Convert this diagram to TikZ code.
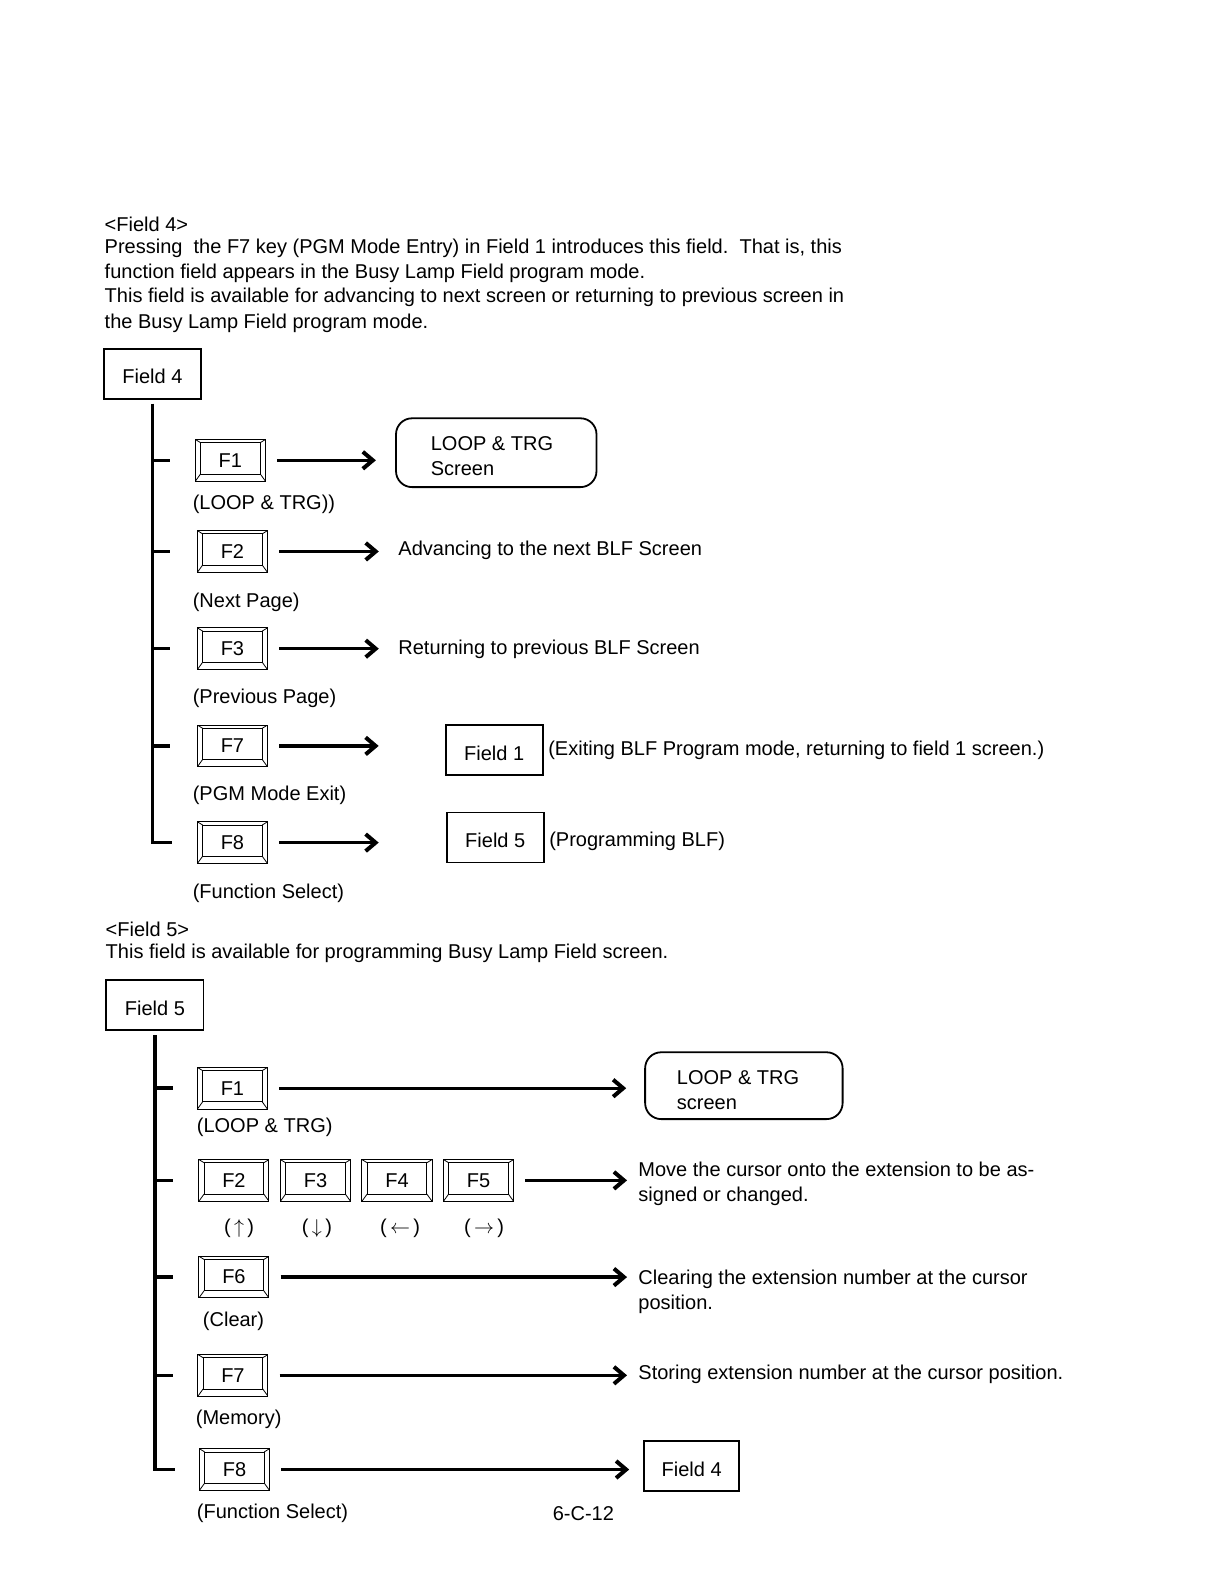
\documentclass[tikz,border=0pt]{standalone}
\usepackage{fontspec}
\setmainfont{Liberation Sans}
\usetikzlibrary{arrows.meta}

\tikzset{
  fkey/.style={draw, line width=0.5pt, minimum width=35pt, minimum height=20.8pt, inner sep=0pt,
    path picture={
      \draw[line width=0.4pt] ([shift={(2.6pt,-1.6pt)}]path picture bounding box.north west)
        rectangle ([shift={(-2.6pt,3.6pt)}]path picture bounding box.south east);
      \foreach \cn/\dx/\dy in {north west/2.6/-1.6, north east/-2.6/-1.6, south west/2.6/3.6, south east/-2.6/3.6}
        \draw[line width=0.4pt] (path picture bounding box.\cn) -- ++(\dx pt,\dy pt);
    }},
  fieldbox/.style={draw, line width=0.9pt, minimum width=48.6pt, minimum height=25pt, inner sep=0pt,
    text height=10.3pt},
  screenbox/.style={draw, line width=0.9pt, rounded corners=8pt, inner sep=0pt},
  txt/.style={anchor=base west, inner sep=0pt, yshift=-1pt},
  ctxt/.style={anchor=base, inner sep=0pt, yshift=-1pt},
  tree/.style={line width=1.8pt},
  arr/.style={line width=1.6pt, -{Straight Barb[length=5pt,width=8.5pt,line width=2pt]}, shorten <=5.6pt},
}

\begin{document}
\begin{tikzpicture}[x=0.5062pt, y=-0.5062pt]

  \useasboundingbox (0,0) rectangle (1205,1568);

  % 说明文字 Field 4
  \node[txt] (head4) at (103,227) {<Field 4>};
  \node[txt] (line41) at (103,248) {Pressing \ the F7 key (PGM Mode Entry) in Field 1 introduces this field.\ \ That is, this};
  \node[txt] (line42) at (103,273) {function field appears in the Busy Lamp Field program mode.};
  \node[txt] (line43) at (103,297) {This field is available for advancing to next screen or returning to previous screen in};
  \node[txt] (line44) at (103,322) {the Busy Lamp Field program mode.};

  % Field 4 框和按键
  \node[fieldbox] (field4) at (150.5,369) {Field 4};

  \node[fkey] (k1) at (227.5,454.5) {F1};
  \node[fkey] (k2) at (229.5,544.5) {F2};
  \node[fkey] (k3) at (229.5,640.5) {F3};
  \node[fkey] (k7) at (229.5,736.5) {F7};
  \node[fkey] (k8) at (229.5,832) {F8};

  \node[txt] (k1lab) at (190,501) {(LOOP \& TRG))};
  \node[txt] (k2lab) at (190,598) {(Next Page)};
  \node[txt] (k3lab) at (190,693) {(Previous Page)};
  \node[txt] (k7lab) at (190,788) {(PGM Mode Exit)};
  \node[txt] (k8lab) at (190,885) {(Function Select)};

  % 目标
  \node[screenbox, minimum width=100.2pt, minimum height=34.4pt] (lt1) at (490,447) {};
  \node[txt] (lt1a) at (425,443) {LOOP \& TRG};
  \node[txt] (lt1b) at (425,468) {Screen};
  \node[txt] (t2) at (393,547) {Advancing to the next BLF Screen};
  \node[txt] (t3) at (393,644) {Returning to previous BLF Screen};
  \node[fieldbox] (f1) at (488,740.5) {Field 1};
  \node[txt] (f1note) at (541,744) {(Exiting BLF Program mode, returning to field 1 screen.)};
  \node[fieldbox] (f5) at (489,827) {Field 5};
  \node[txt] (f5note) at (542,834) {(Programming BLF)};

  % 树形线和箭头
  \draw[tree] ([yshift=-2pt]field4.south) -- (field4.south |- k8.west) -- ++(9.6pt,0);
  \foreach \k in {k1,k2,k3,k7}
    \draw[tree] (field4.south |- \k.west) -- ++(8.6pt,0);

  \draw[arr, shorten >=9.6pt] (k1.east) -- (k1.east -| lt1.west);
  \draw[arr, shorten >=9.6pt] (k2.east) -- (k2.east -| t2.west);
  \draw[arr, shorten >=9.6pt] (k3.east) -- (k3.east -| t3.west);
  \draw[arr, shorten >=33pt] (k7.east) -- (k7.east -| f1.west);
  \draw[arr, shorten >=33.5pt] (k8.east) -- (k8.east -| f5.west);

  % 说明文字 Field 5
  \node[txt] (head5) at (104,923) {<Field 5>};
  \node[txt] (line51) at (104,944) {This field is available for programming Busy Lamp Field screen.};

  % Field 5 框和按键
  \node[fieldbox] (field5) at (153,992.5) {Field 5};

  \node[fkey] (k51) at (229.5,1074.5) {F1};
  \node[fkey] (k52) at (231,1165.5) {F2};
  \node[fkey] (k53) at (311.5,1165.5) {F3};
  \node[fkey] (k54) at (392,1165.5) {F4};
  \node[fkey] (k55) at (472.5,1165.5) {F5};
  \node[fkey] (k56) at (231,1261) {F6};
  \node[fkey] (k57) at (230,1358) {F7};
  \node[fkey] (k58) at (231.5,1451) {F8};

  \node[txt] (k51lab) at (194,1116) {(LOOP \& TRG)};
  \node[ctxt] (k52lab) at (236,1216) {(\,$\uparrow$\,)};
  \node[ctxt] (k53lab) at (313,1216) {(\,$\downarrow$\,)};
  \node[ctxt] (k54lab) at (395,1216) {(\,$\leftarrow$\,)};
  \node[ctxt] (k55lab) at (478,1216) {(\,$\rightarrow$\,)};
  \node[txt] (k56lab) at (200,1308) {(Clear)};
  \node[txt] (k57lab) at (193,1405) {(Memory)};
  \node[txt] (k58lab) at (194,1497) {(Function Select)};

  % 目标
  \node[screenbox, minimum width=98.7pt, minimum height=33.4pt] (lt2) at (734.5,1072) {};
  \node[txt] (lt2a) at (668,1069) {LOOP \& TRG};
  \node[txt] (lt2b) at (668,1094) {screen};
  \node[txt] (m1) at (630,1160) {Move the cursor onto the extension to be as-};
  \node[txt] (m2) at (630,1184) {signed or changed.};
  \node[txt] (c1) at (630,1266) {Clearing the extension number at the cursor};
  \node[txt] (c2) at (630,1291) {position.};
  \node[txt] (s1) at (630,1360) {Storing extension number at the cursor position.};
  \node[fieldbox, minimum width=47.6pt] (f4b) at (683,1447.5) {Field 4};

  % 树形线和箭头
  \draw[tree] ([yshift=-2pt]field5.south) -- (field5.south |- k58.west) -- ++(10pt,0);
  \foreach \k in {k51,k52,k56,k57}
    \draw[tree] (field5.south |- \k.west) -- ++(9.1pt,0);

  \draw[arr, shorten >=9pt] (k51.east) -- (k51.east -| lt2.west);
  \draw[arr, shorten >=5.5pt] (k55.east) -- (k55.east -| m1.west);
  \draw[arr, shorten >=5.5pt] (k56.east) -- (k56.east -| c1.west);
  \draw[arr, shorten >=5.5pt] (k57.east) -- (k57.east -| s1.west);
  \draw[arr, shorten >=7pt] (k58.east) -- (k58.east -| f4b.west);

  % 页码
  \node[ctxt] (pageno) at (576,1499) {6-C-12};

\end{tikzpicture}
\end{document}
